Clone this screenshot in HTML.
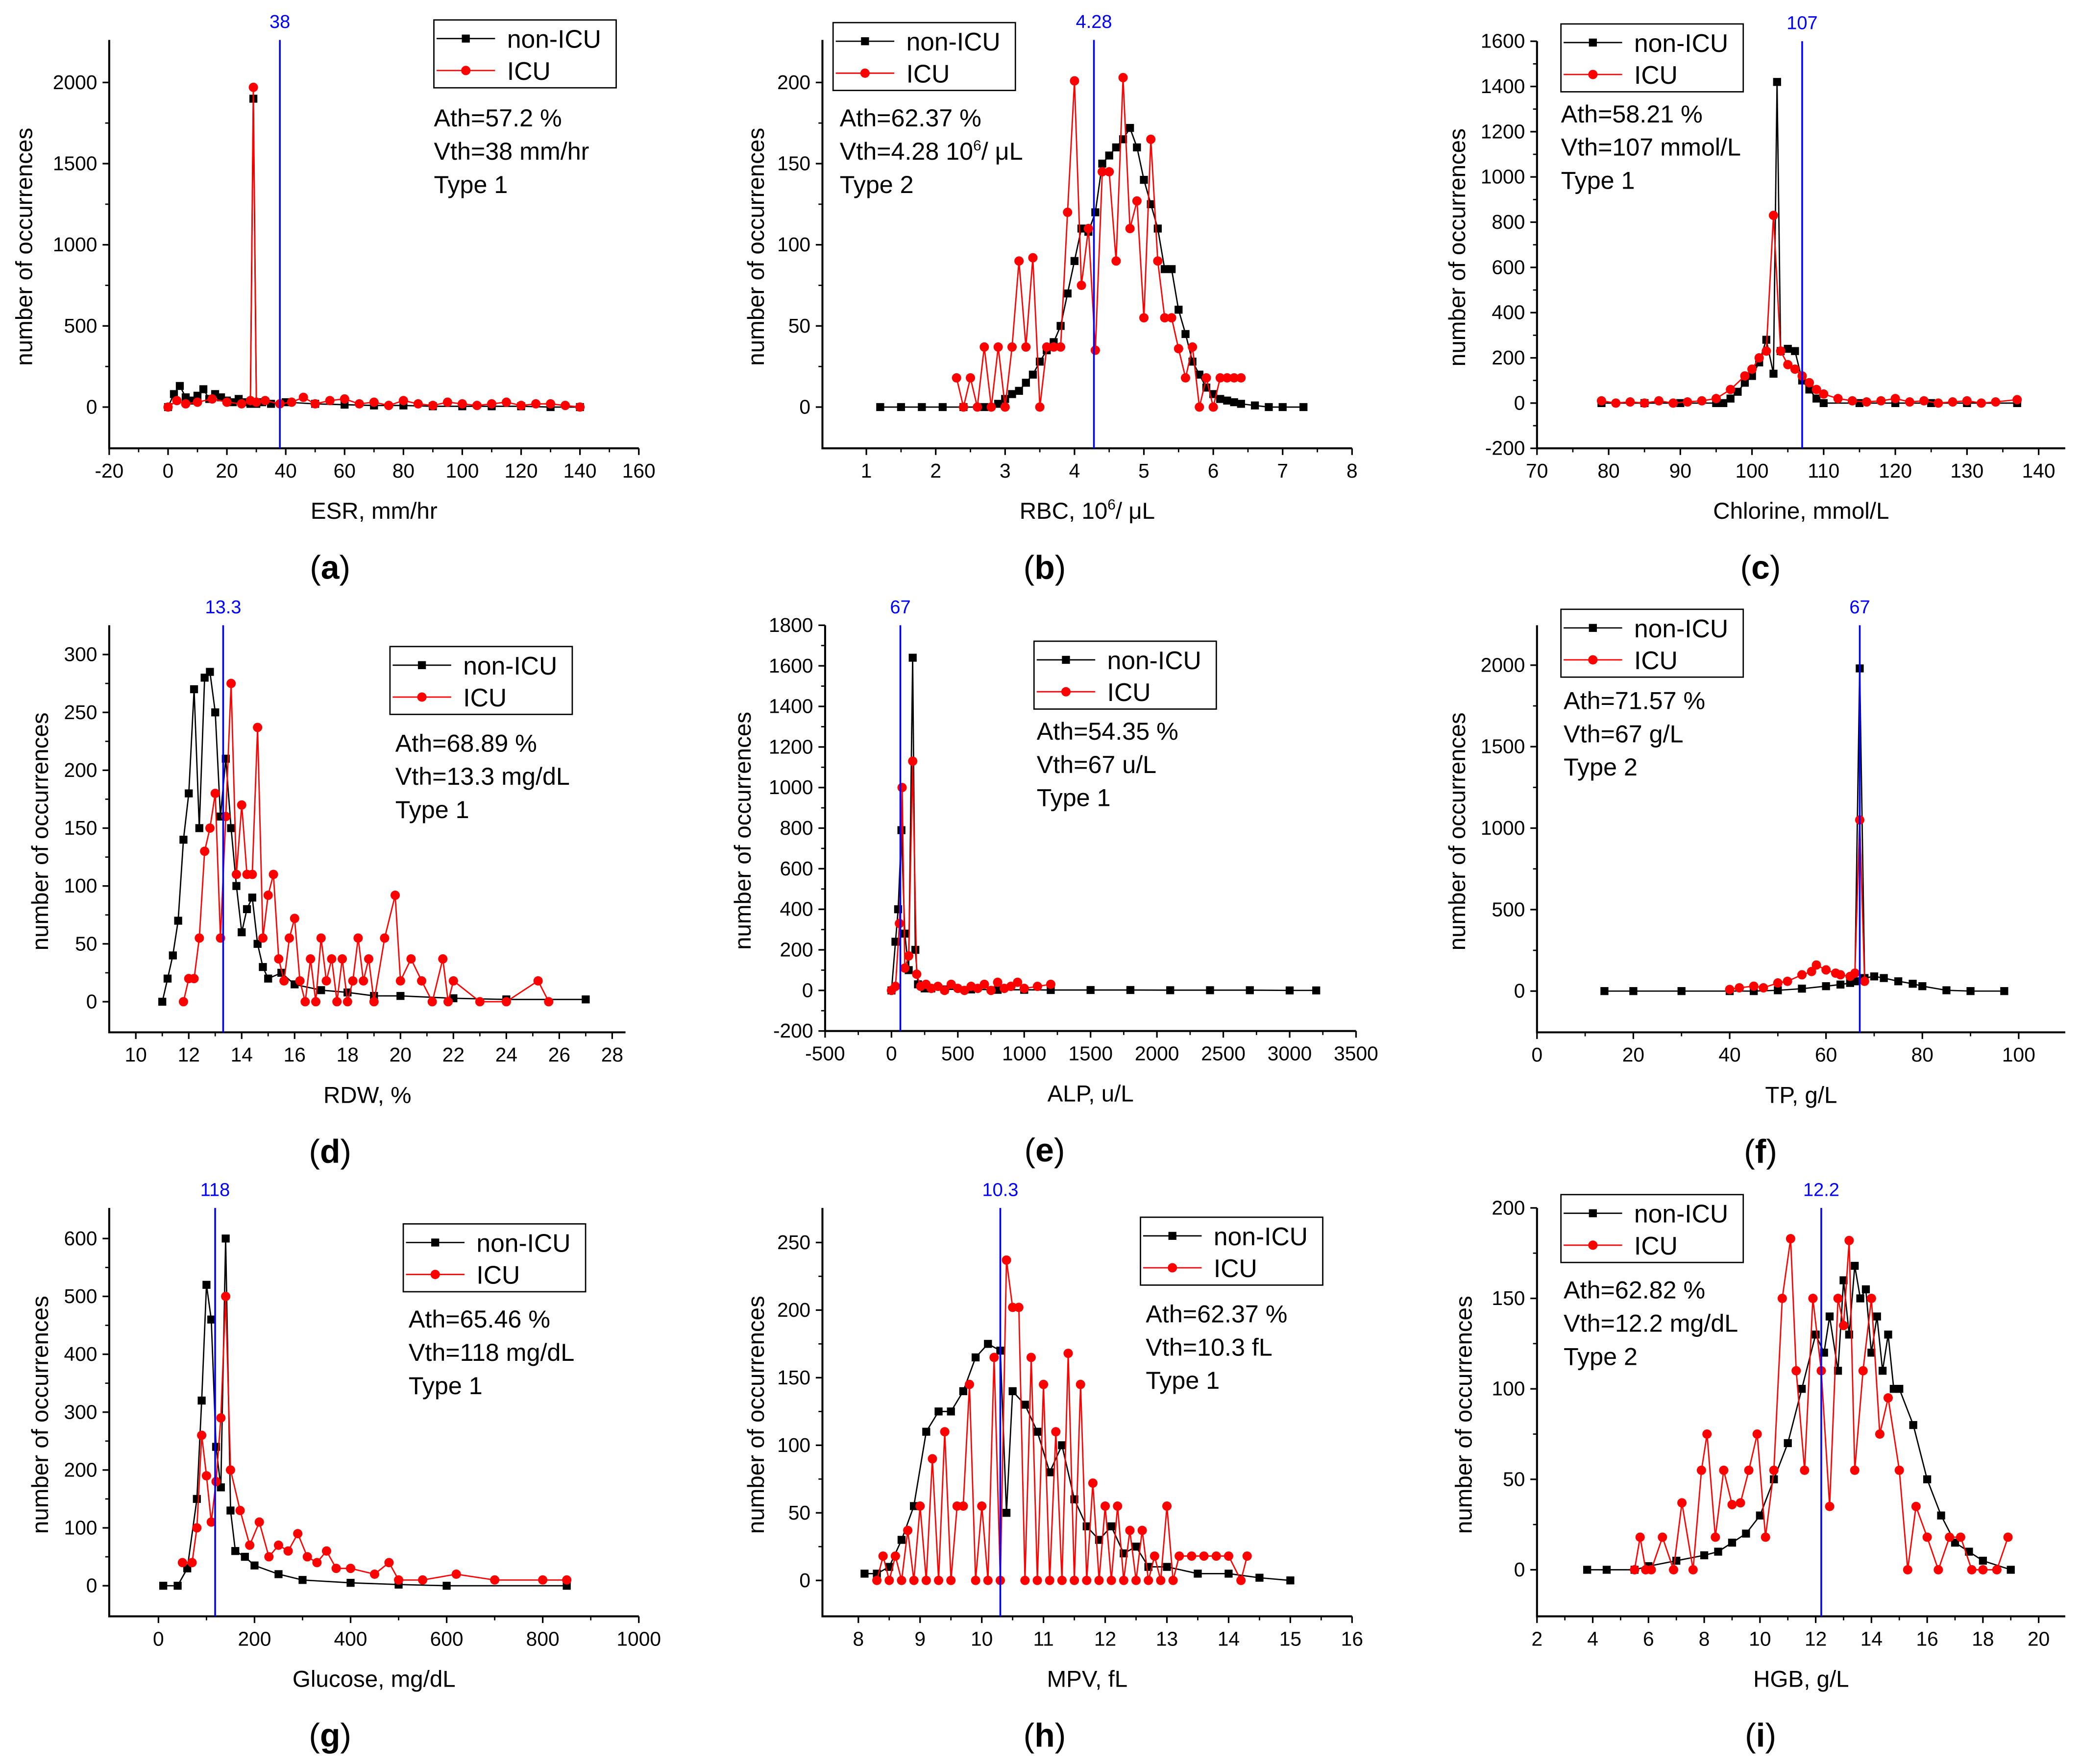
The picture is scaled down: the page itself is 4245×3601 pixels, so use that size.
<!DOCTYPE html>
<html><head><meta charset="utf-8"><title>Histograms</title>
<style>html,body{margin:0;padding:0;background:#fff}svg{display:block}text{font-family:"Liberation Sans",sans-serif}</style></head>
<body>
<svg id="chart" xmlns="http://www.w3.org/2000/svg" width="4245" height="3601" viewBox="0 0 1563 1326"></svg>
<script>
// ---- data (a) ESR
const aNonX=[0,2,4,6,8,10,12,14,16,18,20,22,24,26,28,29,30,32,35,40,50,60,70,80,90,100,110,120,130,140];
const aNonY=[0,80,130,60,40,70,110,50,80,60,40,30,50,30,20,1900,20,30,20,30,20,15,10,10,5,5,5,5,0,0];
const aIcuX=[0,3,6,10,15,20,25,28,29,30,33,38,42,46,50,55,60,65,70,75,80,85,90,95,100,105,110,115,120,125,130,135,140];
const aIcuY=[0,40,20,30,50,30,20,40,1970,30,40,20,30,60,20,40,50,20,30,10,40,20,10,30,20,10,20,30,10,20,20,10,0];
// (b) RBC
const bNonX=[1.2,1.5,1.8,2.1,2.4,2.7,2.9,3.0,3.1,3.2,3.3,3.4,3.5,3.6,3.7,3.8,3.9,4.0,4.1,4.2,4.3,4.4,4.5,4.6,4.7,4.8,4.9,5.0,5.1,5.2,5.3,5.4,5.5,5.6,5.7,5.8,5.9,6.0,6.1,6.2,6.3,6.4,6.6,6.8,7.0,7.3];
const bNonY=[0,0,0,0,0,0,2,5,8,10,15,20,28,35,40,50,70,90,110,108,120,150,155,160,165,172,160,140,125,110,85,85,60,45,28,20,12,8,5,4,3,2,1,0,0,0];
const bIcuX=[2.3,2.4,2.5,2.6,2.7,2.8,2.9,3.0,3.1,3.2,3.3,3.4,3.5,3.6,3.7,3.8,3.9,4.0,4.1,4.2,4.3,4.4,4.5,4.6,4.7,4.8,4.9,5.0,5.1,5.2,5.3,5.4,5.5,5.6,5.7,5.8,5.9,6.0,6.1,6.2,6.3,6.4];
const bIcuY=[18,0,18,0,37,0,37,0,37,90,37,92,0,37,37,37,120,201,75,110,35,145,145,90,203,110,127,55,165,90,55,55,36,18,37,0,18,0,18,18,18,18];
// (c) Chlorine
const cNonX=[79,85,90,95,96,97,98,99,100,101,102,103,103.5,104,105,106,107,108,109,110,115,120,125,130,137];
const cNonY=[0,0,0,0,0,20,50,90,120,180,280,130,1420,230,240,230,100,60,20,0,0,0,0,0,0];
const cIcuX=[79,81,83,85,87,89,91,93,95,97,99,100,101,102,103,104,105,106,107,108,109,110,112,114,116,118,120,122,124,126,128,130,132,134,137];
const cIcuY=[10,0,5,0,10,0,5,10,20,60,120,150,200,230,830,230,170,150,120,90,60,40,20,10,5,10,20,5,10,0,5,10,0,5,15];
// (d) RDW
const dNonX=[11,11.2,11.4,11.6,11.8,12.0,12.2,12.4,12.6,12.8,13.0,13.2,13.4,13.6,13.8,14.0,14.2,14.4,14.6,14.8,15.0,15.5,16,17,18,19,20,22,24,27];
const dNonY=[0,20,40,70,140,180,270,150,280,285,250,160,210,150,100,60,80,90,50,30,20,25,15,10,8,5,5,3,2,2];
const dIcuX=[11.8,12,12.2,12.4,12.6,12.8,13.0,13.2,13.4,13.6,13.8,14.0,14.2,14.4,14.6,14.8,15.0,15.2,15.4,15.6,15.8,16.0,16.2,16.4,16.6,16.8,17.0,17.2,17.4,17.6,17.8,18.0,18.2,18.4,18.6,18.8,19.0,19.4,19.8,20.0,20.4,20.8,21.2,21.6,21.8,22,23,24,25.2,25.6];
const dIcuY=[0,20,20,55,130,150,180,55,160,275,110,170,110,110,237,55,92,110,37,18,55,72,18,0,37,0,55,18,37,0,37,0,18,55,18,37,0,55,92,18,37,18,0,37,0,18,0,0,18,0];
// (e) ALP
const eNonX=[0,30,50,75,100,130,160,180,200,250,300,400,600,800,1000,1200,1500,1800,2100,2400,2700,3000,3200];
const eNonY=[0,240,400,790,280,100,1640,200,30,10,10,5,5,3,3,2,2,2,1,1,1,0,0];
const eIcuX=[0,30,60,80,100,130,160,190,220,260,300,350,400,450,500,550,600,650,700,750,800,850,900,950,1000,1100,1200];
const eIcuY=[0,20,330,1000,110,170,1130,80,20,30,10,20,0,30,10,0,20,10,30,0,40,10,20,40,10,20,30];
// (f) TP
const fNonX=[14,20,30,40,45,50,55,60,63,65,66,67,68,70,72,75,78,80,85,90,97];
const fNonY=[0,0,0,0,0,5,15,30,40,50,60,1980,80,90,80,60,45,30,5,0,0];
const fIcuX=[40,42,45,47,50,52,55,57,58,60,62,63,65,66,67,68];
const fIcuY=[10,20,30,20,50,60,100,120,160,130,110,100,90,110,1050,60];
// (g) Glucose
const gNonX=[10,40,60,80,90,100,110,120,130,140,150,160,180,200,250,300,400,500,600,850];
const gNonY=[0,0,30,150,320,520,460,240,170,600,130,60,50,35,20,10,5,2,0,0];
const gIcuX=[50,70,80,90,100,110,120,130,140,150,170,190,210,230,250,270,290,310,330,350,370,400,450,480,500,550,620,700,800,850];
const gIcuY=[40,40,100,260,190,110,180,290,500,200,130,70,110,50,70,60,90,50,40,60,30,30,20,40,10,10,20,10,10,10];
// (h) MPV
const hNonX=[8.1,8.3,8.5,8.7,8.9,9.1,9.3,9.5,9.7,9.9,10.1,10.3,10.4,10.5,10.7,10.9,11.1,11.3,11.5,11.7,11.9,12.1,12.3,12.5,12.7,13,13.5,14,14.5,15];
const hNonY=[5,5,10,30,55,110,125,125,140,165,175,170,50,140,130,110,80,100,60,40,30,40,20,25,10,10,5,5,2,0];
const hIcuX=[8.3,8.4,8.5,8.6,8.7,8.8,8.9,9.0,9.1,9.2,9.3,9.4,9.5,9.6,9.7,9.8,9.9,10.0,10.1,10.2,10.3,10.4,10.5,10.6,10.7,10.8,10.9,11.0,11.1,11.2,11.3,11.4,11.5,11.6,11.7,11.8,11.9,12.0,12.1,12.2,12.3,12.4,12.5,12.6,12.7,12.8,12.9,13.0,13.1,13.2,13.4,13.6,13.8,14.0,14.2,14.3];
const hIcuY=[0,18,0,18,0,37,0,55,0,90,0,110,0,55,55,145,0,55,0,165,0,237,202,202,0,165,0,145,0,110,0,168,0,145,0,72,0,55,0,55,0,37,0,37,0,18,0,55,0,18,18,18,18,18,0,18];
// (i) HGB
const iNonX=[3.8,4.5,5.5,6,7,8,8.5,9,9.5,10,10.5,11,11.5,12,12.3,12.5,12.8,13,13.2,13.4,13.6,13.8,14,14.2,14.4,14.6,14.8,15,15.5,16,16.5,17,17.5,18,19];
const iNonY=[0,0,0,2,5,8,10,15,20,30,50,70,100,130,120,140,110,160,130,168,150,155,120,140,110,130,100,100,80,50,30,15,10,5,0];
const iIcuX=[5.5,5.7,5.9,6.1,6.5,6.9,7.2,7.6,7.9,8.1,8.4,8.7,9.0,9.3,9.6,9.9,10.2,10.5,10.8,11.1,11.3,11.6,11.9,12.2,12.5,12.8,13.0,13.2,13.4,13.7,14.0,14.3,14.6,15.0,15.3,15.6,16.0,16.4,16.8,17.2,17.6,18.0,18.5,18.9];
const iIcuY=[0,18,0,0,18,0,37,0,55,75,18,55,36,37,55,75,18,55,150,183,110,55,150,110,35,150,135,182,55,110,150,75,95,55,0,35,18,0,18,18,0,0,0,18];

const NS="http://www.w3.org/2000/svg";
const svg=document.getElementById('chart');
function el(tag,attrs,parent,txt){const e=document.createElementNS(NS,tag);for(const k in attrs)e.setAttribute(k,attrs[k]);if(txt!==undefined)e.textContent=txt;(parent||svg).appendChild(e);return e;}

const panels=[
 {k:'a',nx:aNonX,ny:aNonY,ix:aIcuX,iy:aIcuY,xv:[-20,160],xp:[82,480],yv:[0,2000],yp:[306,62],left:82,top:30,bottom:337,right:480,xt:[-20,0,20,40,60,80,100,120,140,160],yt:[0,500,1000,1500,2000],th:38,thl:'38',leg:[326,15],txt:[326,95],lines:['Ath=57.2 %','Vth=38 mm/hr','Type 1'],xtitle:'ESR, mm/hr',yx:18,cap:'(a)',capx:248},
 {k:'b',nx:bNonX,ny:bNonY,ix:bIcuX,iy:bIcuY,xv:[1,8],xp:[651,1016],yv:[0,200],yp:[306,62],left:618,top:30,bottom:337,right:1016,xt:[1,2,3,4,5,6,7,8],yt:[0,50,100,150,200],th:4.28,thl:'4.28',leg:[626,17],txt:[631,95],lines:['Ath=62.37 %','Vth=4.28 10^6/ μL','Type 2'],xtitle:'RBC, 10^6/ μL',yx:568,cap:'(b)',capx:785},
 {k:'c',nx:cNonX,ny:cNonY,ix:cIcuX,iy:cIcuY,xv:[70,140],xp:[1155,1532],yv:[-200,1600],yp:[337,31],left:1155,top:31,bottom:337,right:1552,xt:[70,80,90,100,110,120,130,140],yt:[-200,0,200,400,600,800,1000,1200,1400,1600],th:107,thl:'107',leg:[1173,18],txt:[1173,92],lines:['Ath=58.21 %','Vth=107 mmol/L','Type 1'],xtitle:'Chlorine, mmol/L',yx:1095,cap:'(c)',capx:1323},
 {k:'d',nx:dNonX,ny:dNonY,ix:dIcuX,iy:dIcuY,xv:[10,28],xp:[102,460],yv:[0,300],yp:[753,492],left:82,top:470,bottom:776,right:470,xt:[10,12,14,16,18,20,22,24,26,28],yt:[0,50,100,150,200,250,300],th:13.3,thl:'13.3',leg:[293,486],txt:[297,565],lines:['Ath=68.89 %','Vth=13.3 mg/dL','Type 1'],xtitle:'RDW, %',yx:30,cap:'(d)',capx:248},
 {k:'e',nx:eNonX,ny:eNonY,ix:eIcuX,iy:eIcuY,xv:[-500,3500],xp:[620,1019],yv:[-200,1800],yp:[775,470],left:620,top:470,bottom:775,right:1019,xt:[-500,0,500,1000,1500,2000,2500,3000,3500],yt:[-200,0,200,400,600,800,1000,1200,1400,1600,1800],th:67,thl:'67',leg:[777,482],txt:[779,556],lines:['Ath=54.35 %','Vth=67 u/L','Type 1'],xtitle:'ALP, u/L',yx:558,cap:'(e)',capx:785},
 {k:'f',nx:fNonX,ny:fNonY,ix:fIcuX,iy:fIcuY,xv:[0,100],xp:[1155,1517],yv:[0,2000],yp:[745,500],left:1155,top:470,bottom:776,right:1552,xt:[0,20,40,60,80,100],yt:[0,500,1000,1500,2000],th:67,thl:'67',leg:[1173,458],txt:[1175,533],lines:['Ath=71.57 %','Vth=67 g/L','Type 2'],xtitle:'TP, g/L',yx:1095,cap:'(f)',capx:1323},
 {k:'g',nx:gNonX,ny:gNonY,ix:gIcuX,iy:gIcuY,xv:[0,1000],xp:[119,480],yv:[0,600],yp:[1192,931],left:82,top:908,bottom:1215,right:480,xt:[0,200,400,600,800,1000],yt:[0,100,200,300,400,500,600],th:118,thl:'118',leg:[303,920],txt:[307,998],lines:['Ath=65.46 %','Vth=118 mg/dL','Type 1'],xtitle:'Glucose, mg/dL',yx:30,cap:'(g)',capx:248},
 {k:'h',nx:hNonX,ny:hNonY,ix:hIcuX,iy:hIcuY,xv:[8,16],xp:[645,1016],yv:[0,250],yp:[1188,934],left:618,top:908,bottom:1215,right:1016,xt:[8,9,10,11,12,13,14,15,16],yt:[0,50,100,150,200,250],th:10.3,thl:'10.3',leg:[857,915],txt:[861,994],lines:['Ath=62.37 %','Vth=10.3 fL','Type 1'],xtitle:'MPV, fL',yx:568,cap:'(h)',capx:785},
 {k:'i',nx:iNonX,ny:iNonY,ix:iIcuX,iy:iIcuY,xv:[2,20],xp:[1155,1532],yv:[0,200],yp:[1180,908],left:1155,top:908,bottom:1215,right:1552,xt:[2,4,6,8,10,12,14,16,18,20],yt:[0,50,100,150,200],th:12.2,thl:'12.2',leg:[1173,898],txt:[1175,976],lines:['Ath=62.82 %','Vth=12.2 mg/dL','Type 2'],xtitle:'HGB, g/L',yx:1100,cap:'(i)',capx:1323}
];

function supText(parent,x,y,str,attrs){
  const t=el('text',Object.assign({x:x,y:y},attrs),parent);
  const parts=str.split('^6');
  parts.forEach((p,i)=>{ if(i>0){el('tspan',{dy:-7,'font-size':11},t,'6');el('tspan',{dy:7},t,p);} else el('tspan',{},t,p);});
  return t;
}

panels.forEach(p=>{
  const g=el('g',{});
  
  
  const sx=v=>p.xp[0]+(v-p.xv[0])*(p.xp[1]-p.xp[0])/(p.xv[1]-p.xv[0]);
  const sy=v=>p.yp[0]+(v-p.yv[0])*(p.yp[1]-p.yp[0])/(p.yv[1]-p.yv[0]);
  // axes
  const ax=el('path',{d:`M${p.left},${p.top}V${p.bottom}H${p.right}`,stroke:'#000','stroke-width':1.5,fill:'none'},g);
  
  
  const tk=el('g',{},g);
  
  
  p.xt.forEach((v,i)=>{
    const x=sx(v);
    el('line',{x1:x,x2:x,y1:p.bottom,y2:p.bottom+5,stroke:'#000','stroke-width':1.2},tk);
    if(i<p.xt.length-1){const xm=sx((v+p.xt[i+1])/2);el('line',{x1:xm,x2:xm,y1:p.bottom,y2:p.bottom+3,stroke:'#000','stroke-width':1},tk);}
    el('text',{x:x,y:p.bottom+22,'font-size':15,'text-anchor':'middle'},tk,String(v));
  });
  const ty=el('g',{},g);
  
  
  p.yt.forEach((v,i)=>{
    const y=sy(v);
    el('line',{x1:p.left-5,x2:p.left,y1:y,y2:y,stroke:'#000','stroke-width':1.2},ty);
    if(i<p.yt.length-1){const ym=sy((v+p.yt[i+1])/2);el('line',{x1:p.left-3,x2:p.left,y1:ym,y2:ym,stroke:'#000','stroke-width':1},ty);}
    el('text',{x:p.left-9,y:y+5,'font-size':15,'text-anchor':'end'},ty,String(v));
  });
  // series
  function series(xs,ys,color,isSq,name){
    const sg=el('g',{},g);
    
    
    const pts=xs.map((x,i)=>sx(x).toFixed(1)+','+sy(ys[i]).toFixed(1)).join(' ');
    el('polyline',{points:pts,fill:'none',stroke:color,'stroke-width':1},sg);
    xs.forEach((x,i)=>{
      let m;
      if(isSq) m=el('rect',{x:sx(x)-3,y:sy(ys[i])-3,width:6,height:6,fill:color},sg);
      else m=el('circle',{cx:sx(x),cy:sy(ys[i]),r:3.5,fill:color},sg);
      
      
    });
  }
  series(p.nx,p.ny,'#000',true,'non-icu-series-'+p.k);
  series(p.ix,p.iy,'#ff0000',false,'icu-series-'+p.k);
  // threshold
  const tx=sx(p.th);
  const tl=el('line',{x1:tx,x2:tx,y1:p.top,y2:p.bottom,stroke:'#0000ff','stroke-width':1.3},g);
  
  
  const tt=el('text',{x:tx,y:p.top-9,'font-size':14,fill:'#0000ff','text-anchor':'middle'},g,p.thl);
  
  
  // legend
  const lg=el('g',{},g);
  
  
  const [lx,ly]=p.leg;
  el('rect',{x:lx,y:ly,width:137,height:51,fill:'#fff',stroke:'#000','stroke-width':1},lg);
  el('line',{x1:lx+2,x2:lx+46,y1:ly+14,y2:ly+14,stroke:'#000','stroke-width':1},lg);
  el('rect',{x:lx+21,y:ly+11,width:6,height:6,fill:'#000'},lg);
  el('text',{x:lx+55,y:ly+21,'font-size':19},lg,'non-ICU');
  el('line',{x1:lx+2,x2:lx+46,y1:ly+38,y2:ly+38,stroke:'#ff0000','stroke-width':1},lg);
  el('circle',{cx:lx+24,cy:ly+38,r:3.5,fill:'#ff0000'},lg);
  el('text',{x:lx+55,y:ly+45,'font-size':19},lg,'ICU');
  // annotation
  const an=el('g',{},g);
  
  
  p.lines.forEach((s,i)=>supText(an,p.txt[0],p.txt[1]+i*25,s,{'font-size':18.5}));
  // titles
  const xtl=supText(g,(p.left+p.right)/2,p.bottom+53,p.xtitle,{'font-size':17.5,'text-anchor':'middle'});
  
  
  const cy=(p.top+p.bottom)/2+2;
  const ytl=el('text',{x:0,y:0,'font-size':17.5,'text-anchor':'middle',transform:`translate(${p.yx+6},${cy}) rotate(-90)`},g,'number of occurrences');
  
  
  const cp=el('text',{x:p.capx,y:p.bottom+98,'font-size':25,'text-anchor':'middle','font-family':'Liberation Serif, serif'},g,'');
  el('tspan',{},cp,'(');
  el('tspan',{'font-weight':'bold'},cp,p.cap.slice(1,-1));
  el('tspan',{},cp,')');
  
  
});
</script>
</body></html>
